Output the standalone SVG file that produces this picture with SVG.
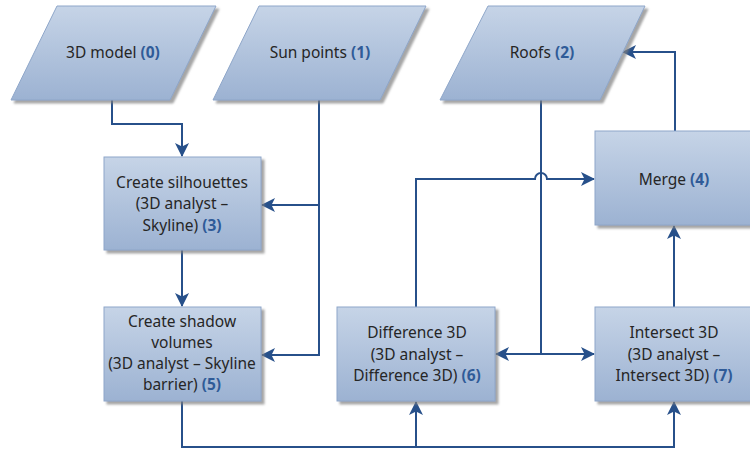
<svg xmlns="http://www.w3.org/2000/svg" width="750" height="450" viewBox="0 0 750 450">
  <defs>
    <linearGradient id="fillGrad" x1="0" y1="0" x2="0" y2="1">
      <stop offset="0" stop-color="#c6d4e7"/>
      <stop offset="1" stop-color="#9cb2d2"/>
    </linearGradient>
    <filter id="shadow" x="-10%" y="-10%" width="130%" height="130%">
      <feDropShadow dx="3" dy="3" stdDeviation="1.2" flood-color="#7f7f7f" flood-opacity="0.7"/>
    </filter>
    <marker id="arrow" viewBox="0 0 14 14" refX="13" refY="7" markerWidth="14" markerHeight="14" markerUnits="userSpaceOnUse" orient="auto">
      <path d="M0,0 L14,7 L0,14 L3.5,7 Z" fill="#27508a"/>
    </marker>
  </defs>
  <style>
    .shape { fill: url(#fillGrad); stroke: #8ea6c9; stroke-width: 1; filter: url(#shadow); }
    .label { font-family: "Noto Sans", "Liberation Sans", sans-serif; font-size: 15.5px; fill: #262626; text-anchor: middle; }
    .num { fill: #2f5b98; font-weight: bold; }
    .conn { fill: none; stroke: #27508a; stroke-width: 2; }
  </style>

  <g id="connectors">
    <!-- 3D model -> Create silhouettes -->
    <path class="conn" d="M112,100 V124 H182 V156" marker-end="url(#arrow)"/>
    <!-- Sun points -> Create silhouettes / Create shadow volumes -->
    <path class="conn" d="M319,100 V355 H262" marker-end="url(#arrow)"/>
    <path class="conn" d="M319,205 H262" marker-end="url(#arrow)"/>
    <!-- Create silhouettes -> Create shadow volumes -->
    <path class="conn" d="M182,250 V306" marker-end="url(#arrow)"/>
    <!-- Create shadow volumes -> Difference 3D / Intersect 3D -->
    <path class="conn" d="M182,401 V447 H674 V402" marker-end="url(#arrow)"/>
    <path class="conn" d="M416,447 V402" marker-end="url(#arrow)"/>
    <!-- Roofs -> Difference 3D / Intersect 3D -->
    <path class="conn" d="M541,100 V354 H496" marker-end="url(#arrow)"/>
    <path class="conn" d="M541,354 H594" marker-end="url(#arrow)"/>
    <!-- Difference 3D -> Merge, hopping over the Roofs line -->
    <path class="conn" d="M416,307 V179 H535 A6,6 0 0 1 547,179 H594" marker-end="url(#arrow)"/>
    <!-- Intersect 3D -> Merge -->
    <path class="conn" d="M674,307 V226" marker-end="url(#arrow)"/>
    <!-- Merge -> Roofs -->
    <path class="conn" d="M675,131 V52 H623" marker-end="url(#arrow)"/>
  </g>

  <g id="node0">
    <polygon class="shape" points="57,6 216,6 170,100 11,100"/>
    <text class="label" x="113" y="58">3D model <tspan class="num">(0)</tspan></text>
  </g>
  <g id="node1">
    <polygon class="shape" points="259,6 426,6 380,100 213,100"/>
    <text class="label" x="320" y="58">Sun points <tspan class="num">(1)</tspan></text>
  </g>
  <g id="node2">
    <polygon class="shape" points="488,6 645,6 600,100 440,100"/>
    <text class="label" x="542" y="58">Roofs <tspan class="num">(2)</tspan></text>
  </g>
  <g id="node3">
    <rect class="shape" x="104" y="157" width="157" height="93"/>
    <text class="label" x="182" y="188">Create silhouettes</text>
    <text class="label" x="182" y="209">(3D analyst –</text>
    <text class="label" x="182" y="231">Skyline) <tspan class="num">(3)</tspan></text>
  </g>
  <g id="node4">
    <rect class="shape" x="595" y="131" width="158" height="94"/>
    <text class="label" x="674" y="185">Merge <tspan class="num">(4)</tspan></text>
  </g>
  <g id="node5">
    <rect class="shape" x="104" y="307" width="157" height="94"/>
    <text class="label" x="182" y="327">Create shadow</text>
    <text class="label" x="182" y="348">volumes</text>
    <text class="label" x="182" y="369">(3D analyst – Skyline</text>
    <text class="label" x="182" y="390">barrier) <tspan class="num">(5)</tspan></text>
  </g>
  <g id="node6">
    <rect class="shape" x="337" y="307" width="158" height="94"/>
    <text class="label" x="417" y="338">Difference 3D</text>
    <text class="label" x="417" y="360">(3D analyst –</text>
    <text class="label" x="417" y="381">Difference 3D) <tspan class="num">(6)</tspan></text>
  </g>
  <g id="node7">
    <rect class="shape" x="595" y="307" width="158" height="94"/>
    <text class="label" x="674" y="338">Intersect 3D</text>
    <text class="label" x="674" y="360">(3D analyst –</text>
    <text class="label" x="674" y="381">Intersect 3D) <tspan class="num">(7)</tspan></text>
  </g>
</svg>
